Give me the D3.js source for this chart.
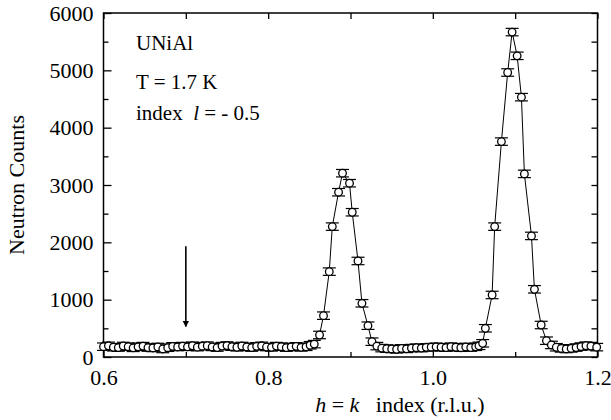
<!DOCTYPE html>
<html>
<head>
<meta charset="utf-8">
<script src="https://cdn.jsdelivr.net/npm/d3@7"></script>
<style>
  body { margin: 0; background: #fff; }
</style>
</head>
<body>
<div id="chart"></div>
<script>
// scan positions along h = k (r.l.u.)
var hVals = [
  0.600, 0.606, 0.612, 0.618, 0.624, 0.630, 0.636, 0.642, 0.648, 0.654,
  0.660, 0.666, 0.672, 0.678, 0.684, 0.690, 0.696, 0.702, 0.708, 0.714,
  0.720, 0.726, 0.732, 0.738, 0.744, 0.750, 0.756, 0.762, 0.768, 0.774,
  0.780, 0.786, 0.792, 0.798, 0.804, 0.810, 0.816, 0.822, 0.828, 0.834,
  0.840, 0.846, 0.851, 0.856,
  0.8624, 0.8672, 0.8742, 0.8779, 0.8855, 0.8903, 0.8988, 0.9021, 0.9091, 0.9139,
  0.9212, 0.9261, 0.932,
  0.938, 0.944, 0.950, 0.956, 0.962, 0.968, 0.974, 0.980, 0.986, 0.992,
  0.998, 1.004, 1.010, 1.016, 1.022, 1.028, 1.034, 1.040, 1.046, 1.052, 1.056,
  1.0605, 1.0638, 1.0720, 1.0751, 1.0833, 1.0909, 1.0963, 1.1024, 1.1076, 1.1112,
  1.1198, 1.1234, 1.1316, 1.1380,
  1.144, 1.150, 1.156, 1.162, 1.168, 1.174, 1.180, 1.186, 1.192, 1.199
];
// neutron counts at each position
var counts = [
  180, 195, 170, 165, 192, 180, 160, 178, 190, 165,
  158, 175, 140, 162, 186, 175, 190, 178, 196, 172,
  188, 198, 176, 165, 190, 200, 180, 170, 192, 176,
  165, 186, 195, 174, 168, 190, 180, 164, 175, 186,
  168, 178, 205, 225,
  384, 721, 1489, 2274, 2874, 3206, 3031, 2525, 1675, 937,
  546, 267, 190,
  155, 145, 140, 135, 150, 142, 155, 162, 155, 168,
  172, 178, 170, 165, 180, 170, 162, 175, 165, 178, 195,
  239, 501, 1082, 2274, 3757, 4962, 5667, 5253, 4532, 3194,
  2112, 1181, 558, 284,
  210, 170, 150, 140, 150, 165, 182, 198, 190, 172
];
var countError = 65;   // half-height of every error bar, counts

var xTicks = [0.6, 0.8, 1.0, 1.2];
var xMinor = [0.7, 0.9, 1.1];
var yTicks = [0, 1000, 2000, 3000, 4000, 5000, 6000];
var yMinor = [500, 1500, 2500, 3500, 4500, 5500];
var arrowH = 0.7, arrowFrom = 1930, arrowTo = 530;

var W = 611, H = 420;
var m = { top: 13, right: 13.5, bottom: 63, left: 103.5 };
var iw = W - m.left - m.right, ih = H - m.top - m.bottom;
var SERIF = "Liberation Serif";

var svg = d3.select("#chart").append("svg")
  .attr("width", W).attr("height", H);
var g = svg.append("g").attr("transform", "translate(" + m.left + "," + m.top + ")");

var x = d3.scaleLinear().domain([0.6, 1.2]).range([0, iw]);
var y = d3.scaleLinear().domain([0, 6000]).range([ih, 0]);

var pts = hVals.map(function(h, i) { return { h: h, c: counts[i] }; });

// frame
g.append("rect").attr("width", iw).attr("height", ih)
  .attr("fill", "none").attr("stroke", "#000").attr("stroke-width", 1.5);

// ticks, all pointing inward
function ticks(sel, axis) { sel.call(axis); sel.select(".domain").remove(); }
g.append("g").attr("transform", "translate(0," + ih + ")")
  .call(ticks, d3.axisBottom(x).tickValues(xTicks).tickSize(-8).tickPadding(12).tickFormat(d3.format(".1f")));
g.append("g").attr("transform", "translate(0," + ih + ")")
  .call(ticks, d3.axisBottom(x).tickValues(xMinor).tickSize(-5).tickFormat(""));
g.append("g")
  .call(ticks, d3.axisTop(x).tickValues(xTicks.concat(xMinor)).tickSize(-6).tickFormat(""));
g.append("g")
  .call(ticks, d3.axisLeft(y).tickValues(yTicks).tickSize(-8).tickPadding(10).tickFormat(d3.format("d")));
g.append("g")
  .call(ticks, d3.axisLeft(y).tickValues(yMinor).tickSize(-5).tickFormat(""));
g.append("g").attr("transform", "translate(" + iw + ",0)")
  .call(ticks, d3.axisRight(y).tickValues(yTicks.concat(yMinor)).tickSize(-6).tickFormat(""));

g.selectAll(".tick line").attr("stroke", "#000").attr("stroke-width", 1.3);
g.selectAll(".tick text").attr("font-family", SERIF).attr("font-size", 22).attr("fill", "#000");

// connecting line
g.append("path").datum(pts)
  .attr("fill", "none").attr("stroke", "#000").attr("stroke-width", 1)
  .attr("d", d3.line().x(function(d) { return x(d.h); }).y(function(d) { return y(d.c); }));

// error bars
var eb = g.append("g").selectAll("g").data(pts).enter().append("g")
  .attr("stroke", "#000").attr("stroke-width", 1.2);
eb.append("line")
  .attr("x1", function(d) { return x(d.h); }).attr("x2", function(d) { return x(d.h); })
  .attr("y1", function(d) { return y(d.c + countError); }).attr("y2", function(d) { return y(d.c - countError); });
eb.append("line")
  .attr("x1", function(d) { return x(d.h) - 6.5; }).attr("x2", function(d) { return x(d.h) + 6.5; })
  .attr("y1", function(d) { return y(d.c + countError); }).attr("y2", function(d) { return y(d.c + countError); });
eb.append("line")
  .attr("x1", function(d) { return x(d.h) - 6.5; }).attr("x2", function(d) { return x(d.h) + 6.5; })
  .attr("y1", function(d) { return y(d.c - countError); }).attr("y2", function(d) { return y(d.c - countError); });

// open circles
g.append("g").selectAll("circle").data(pts).enter().append("circle")
  .attr("cx", function(d) { return x(d.h); }).attr("cy", function(d) { return y(d.c); })
  .attr("r", 3.8).attr("fill", "#fff").attr("stroke", "#000").attr("stroke-width", 1.3);

// arrow at h = 0.7
svg.append("defs").append("marker").attr("id", "ah")
  .attr("viewBox", "0 0 10 10").attr("refX", 9).attr("refY", 5)
  .attr("markerWidth", 4).attr("markerHeight", 5).attr("orient", "auto")
  .append("path").attr("d", "M0,0 L10,5 L0,10 z").attr("fill", "#000");
g.append("line")
  .attr("x1", x(arrowH)).attr("x2", x(arrowH))
  .attr("y1", y(arrowFrom)).attr("y2", y(arrowTo))
  .attr("stroke", "#000").attr("stroke-width", 1.6).attr("marker-end", "url(#ah)");

// annotations
var note = svg.append("g").attr("font-family", SERIF).attr("font-size", 21);
note.append("text").attr("x", 136).attr("y", 50).text("UNiAl");
note.append("text").attr("x", 136).attr("y", 89).text("T = 1.7 K");
var t3 = note.append("text").attr("x", 136).attr("y", 120).attr("xml:space", "preserve");
t3.append("tspan").text("index  ");
t3.append("tspan").attr("font-style", "italic").text("l");
t3.append("tspan").text(" = - 0.5");

// axis titles
svg.append("text")
  .attr("transform", "translate(24," + (m.top + ih / 2) + ") rotate(-90)")
  .attr("text-anchor", "middle").attr("font-family", SERIF).attr("font-size", 22)
  .text("Neutron Counts");
var xl = svg.append("text").attr("x", m.left + x(0.96)).attr("y", 412)
  .attr("text-anchor", "middle").attr("font-family", SERIF).attr("font-size", 22)
  .attr("xml:space", "preserve");
xl.append("tspan").attr("font-style", "italic").text("h");
xl.append("tspan").text(" = ");
xl.append("tspan").attr("font-style", "italic").text("k");
xl.append("tspan").text("   index (r.l.u.)");
</script>
</body>
</html>
